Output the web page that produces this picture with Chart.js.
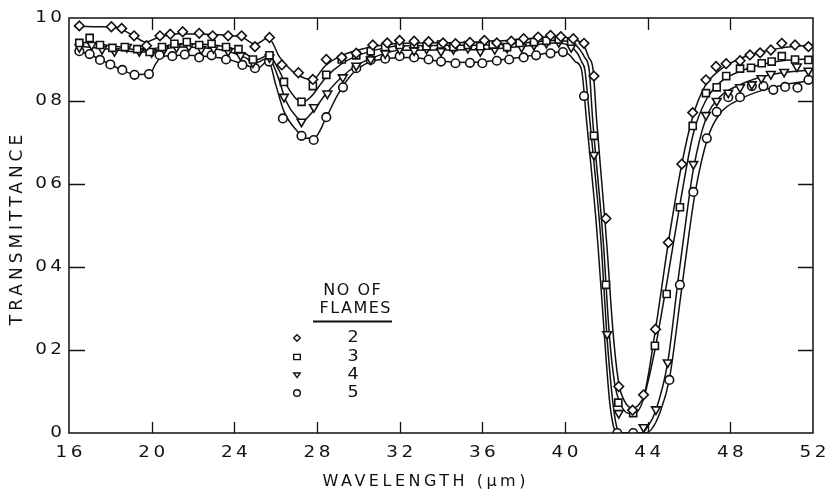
<!DOCTYPE html>
<html>
<head>
<meta charset="utf-8">
<script src="https://cdn.jsdelivr.net/npm/chart.js@4.4.1/dist/chart.umd.min.js"></script>
<style>
  html, body { margin: 0; padding: 0; background: #fff; }
  #wrap { width: 832px; height: 500px; }
</style>
</head>
<body>
<div id="wrap"><canvas id="spectrum" width="832" height="500"></canvas></div>
<script>
// axis ticks and their printed labels
const wavelengthTicks = [16, 20, 24, 28, 32, 36, 40, 44, 48, 52];
const xTickLabels = ['16', '20', '24', '28', '32', '36', '40', '44', '48', '52'];
const transmittanceTicks = [0, 0.2, 0.4, 0.6, 0.8, 1.0];
const yTickLabels = ['0', '02', '04', '06', '08', '10'];
const flameCounts = ['2', '3', '4', '5'];

// smooth fitted curves, [wavelength um, transmittance]
const fit2 = [[16.5,0.98],[17.5,0.979],[18.4,0.975],[19.1,0.958],[19.7,0.942],[20.3,0.953],[21.3,0.962],[22.5,0.961],[23.7,0.958],[24.4,0.953],[25.0,0.937],[25.65,0.952],[26.2,0.905],[26.8,0.872],[27.4,0.855],[27.8,0.852],[28.4,0.885],[29.2,0.91],[30.4,0.928],[31.5,0.937],[33,0.94],[35,0.941],[37,0.945],[38.7,0.952],[39.8,0.955],[40.4,0.948],[40.9,0.935],[41.15,0.905],[41.36,0.875],[41.53,0.754],[41.93,0.513],[42.03,0.449],[42.33,0.24],[42.6,0.12],[42.9,0.075],[43.25,0.06],[43.6,0.07],[43.85,0.095],[44.38,0.25],[45.0,0.459],[45.65,0.648],[46.2,0.765],[46.8,0.838],[47.5,0.875],[48.5,0.903],[49.5,0.918],[50.5,0.928],[52,0.935]];
const fit3 = [[16.5,0.942],[17.5,0.937],[18.5,0.93],[19.5,0.922],[20.3,0.928],[21.3,0.938],[22.5,0.937],[23.7,0.93],[24.5,0.915],[25.1,0.9],[25.65,0.91],[26.1,0.88],[26.5,0.84],[27.0,0.805],[27.3,0.797],[27.7,0.81],[28.4,0.855],[29.2,0.89],[30.0,0.91],[31,0.925],[32,0.933],[34,0.934],[36,0.935],[38,0.94],[39.6,0.946],[40.3,0.942],[40.7,0.925],[40.95,0.905],[41.17,0.875],[41.34,0.754],[41.77,0.513],[41.87,0.449],[42.14,0.24],[42.4,0.12],[42.7,0.068],[43.1,0.047],[43.4,0.048],[43.75,0.075],[44.35,0.2],[44.92,0.36],[45.56,0.55],[46.2,0.72],[46.8,0.8],[47.5,0.845],[48.5,0.872],[49.5,0.888],[50.5,0.897],[52,0.902]];
const fit4 = [[16.5,0.932],[17.5,0.927],[18.5,0.922],[19.5,0.918],[20.3,0.922],[21.3,0.93],[22.5,0.928],[23.7,0.92],[24.5,0.905],[25.1,0.893],[25.65,0.905],[26.1,0.86],[26.5,0.8],[27.0,0.762],[27.3,0.752],[27.8,0.775],[28.4,0.815],[29.2,0.858],[30,0.888],[31,0.91],[32,0.922],[34,0.923],[36,0.924],[38,0.932],[39.5,0.94],[40.2,0.934],[40.6,0.915],[40.8,0.895],[40.96,0.875],[41.2,0.754],[41.66,0.513],[41.76,0.449],[42.02,0.24],[42.3,0.08],[42.5,0.015],[42.65,0],[43.7,0],[44.0,0.015],[44.4,0.055],[44.97,0.17],[45.5,0.38],[45.9,0.53],[46.21,0.635],[46.8,0.755],[47.5,0.81],[48.5,0.84],[49.5,0.858],[50.5,0.868],[52,0.875]];
const fit5 = [[16.5,0.92],[17.0,0.912],[17.5,0.9],[18.0,0.888],[18.6,0.874],[19.2,0.864],[19.9,0.865],[20.2,0.89],[20.5,0.907],[21.5,0.91],[22.7,0.907],[23.7,0.9],[24.5,0.888],[25.1,0.878],[25.65,0.897],[26.0,0.84],[26.4,0.775],[27.0,0.73],[27.5,0.71],[27.9,0.712],[28.4,0.755],[29.0,0.815],[29.7,0.865],[30.5,0.893],[31.5,0.903],[32.5,0.905],[34,0.896],[35.5,0.893],[37,0.9],[38.5,0.91],[39.7,0.918],[40.2,0.912],[40.5,0.895],[40.8,0.875],[41.04,0.754],[41.5,0.513],[41.6,0.449],[41.9,0.24],[42.15,0.08],[42.35,0.015],[42.5,0],[43.85,0],[44.2,0.01],[44.6,0.05],[45.05,0.13],[45.6,0.33],[46.0,0.48],[46.3,0.58],[46.9,0.71],[47.5,0.77],[48.5,0.805],[49.5,0.825],[50.5,0.838],[52,0.85]];

// measured points for each number of flames
const meas2 = [[16.5,0.981],[18.05,0.979],[18.55,0.975],[19.15,0.957],[19.75,0.933],[20.4,0.957],[20.9,0.961],[21.5,0.967],[22.3,0.963],[22.95,0.957],[23.7,0.957],[24.35,0.957],[25.0,0.931],[25.7,0.953],[26.3,0.887],[27.1,0.868],[27.8,0.852],[28.45,0.9],[29.2,0.905],[29.9,0.915],[30.7,0.935],[31.4,0.94],[32.0,0.946],[32.7,0.944],[33.4,0.943],[34.1,0.94],[34.7,0.938],[35.4,0.941],[36.1,0.946],[36.7,0.94],[37.4,0.944],[38.0,0.95],[38.7,0.954],[39.3,0.958],[39.8,0.955],[40.4,0.95],[40.92,0.939],[41.4,0.86],[41.98,0.517],[42.6,0.112],[43.27,0.055],[43.8,0.092],[44.38,0.25],[45.0,0.459],[45.65,0.648],[46.18,0.772],[46.82,0.851],[47.31,0.883],[47.8,0.89],[48.47,0.897],[48.95,0.911],[49.44,0.916],[49.96,0.923],[50.49,0.939],[51.13,0.935],[51.78,0.931]];
const meas3 = [[16.5,0.94],[17.0,0.952],[17.5,0.935],[18.1,0.928],[18.7,0.93],[19.3,0.925],[19.9,0.918],[20.5,0.93],[21.1,0.938],[21.7,0.942],[22.3,0.935],[22.9,0.938],[23.6,0.93],[24.2,0.925],[24.9,0.9],[25.7,0.91],[26.4,0.846],[27.25,0.798],[27.8,0.836],[28.45,0.863],[29.2,0.9],[29.9,0.91],[30.6,0.92],[31.3,0.93],[32.0,0.935],[32.7,0.937],[33.3,0.932],[34.0,0.936],[34.6,0.93],[35.3,0.935],[35.9,0.932],[36.5,0.936],[37.2,0.93],[37.8,0.94],[38.5,0.942],[39.1,0.945],[39.7,0.948],[40.3,0.943],[41.4,0.716],[41.98,0.357],[42.58,0.073],[43.3,0.048],[44.35,0.21],[44.92,0.335],[45.56,0.544],[46.18,0.74],[46.82,0.819],[47.34,0.833],[47.8,0.86],[48.47,0.878],[49.0,0.88],[49.52,0.891],[50.0,0.895],[50.49,0.908],[51.13,0.9],[51.78,0.899]];
const meas4 = [[16.5,0.93],[17.1,0.935],[17.6,0.925],[18.2,0.92],[18.8,0.93],[19.4,0.92],[20.0,0.918],[20.6,0.925],[21.2,0.93],[21.8,0.932],[22.4,0.925],[23.0,0.927],[23.7,0.92],[24.3,0.91],[24.9,0.893],[25.7,0.905],[26.4,0.81],[27.25,0.75],[27.85,0.785],[28.5,0.818],[29.25,0.857],[29.9,0.885],[30.6,0.9],[31.3,0.915],[32.0,0.925],[32.7,0.922],[33.3,0.926],[34.0,0.92],[34.6,0.925],[35.3,0.928],[35.9,0.92],[36.6,0.925],[37.2,0.928],[37.9,0.93],[38.5,0.935],[39.1,0.94],[39.7,0.942],[40.3,0.93],[41.4,0.67],[42.04,0.238],[42.6,0.048],[43.8,0.014],[44.4,0.057],[44.97,0.17],[46.21,0.648],[46.82,0.766],[47.34,0.8],[47.9,0.82],[48.47,0.833],[49.04,0.84],[49.5,0.855],[49.96,0.865],[50.6,0.87],[51.22,0.883],[51.78,0.873]];
const meas5 = [[16.5,0.92],[17.0,0.913],[17.5,0.899],[18.0,0.888],[18.58,0.875],[19.17,0.863],[19.87,0.865],[20.38,0.911],[21.0,0.908],[21.6,0.912],[22.3,0.905],[22.9,0.91],[23.6,0.9],[24.39,0.887],[25.0,0.879],[25.68,0.895],[26.35,0.758],[27.25,0.716],[27.84,0.706],[28.45,0.761],[29.26,0.833],[29.9,0.879],[30.6,0.899],[31.3,0.902],[32.0,0.908],[32.7,0.905],[33.4,0.9],[34.0,0.895],[34.7,0.891],[35.4,0.892],[36.0,0.891],[36.7,0.897],[37.3,0.9],[38.0,0.905],[38.6,0.91],[39.3,0.915],[39.9,0.918],[40.92,0.812],[42.53,0],[43.3,0],[45.05,0.128],[45.56,0.357],[46.21,0.581],[46.86,0.71],[47.34,0.774],[47.9,0.809],[48.47,0.809],[49.04,0.836],[49.6,0.836],[50.08,0.827],[50.65,0.834],[51.25,0.832],[51.78,0.851]];

const INK = '#111';
const FONT = '"DejaVu Sans", sans-serif';

const series = [
  { fit: fit2, meas: meas2, style: 'rectRot', radius: 4.8, rotation: 0 },
  { fit: fit3, meas: meas3, style: 'rect', radius: 5, rotation: 0 },
  { fit: fit4, meas: meas4, style: 'triangle', radius: 5, rotation: 180 },
  { fit: fit5, meas: meas5, style: 'circle', radius: 4.3, rotation: 0 }
];

const toXY = pts => pts.map(([x, y]) => ({ x, y }));

const datasets = [];
series.forEach(s => {
  datasets.push({
    type: 'line',
    data: toXY(s.fit),
    borderColor: INK,
    borderWidth: 1.5,
    pointRadius: 0,
    fill: false,
    cubicInterpolationMode: 'monotone',
    order: 2
  });
  datasets.push({
    type: 'scatter',
    data: toXY(s.meas),
    showLine: false,
    pointStyle: s.style,
    pointRadius: s.radius,
    rotation: s.rotation,
    pointBackgroundColor: '#fff',
    pointBorderColor: INK,
    pointBorderWidth: 1.6,
    order: 1
  });
});

// text with optional horizontal stretch and letter spacing
function drawText(ctx, text, x, y, size, align, spacing, stretch) {
  ctx.save();
  ctx.font = size + 'px ' + FONT;
  ctx.letterSpacing = spacing + 'px';
  ctx.fillStyle = INK;
  ctx.textBaseline = 'middle';
  ctx.textAlign = 'left';
  const w = (ctx.measureText(text).width - spacing) * stretch;
  let left = x;
  if (align === 'center') left = x - w / 2;
  if (align === 'right') left = x - w;
  ctx.translate(left, y);
  ctx.scale(stretch, 1);
  ctx.fillText(text, 0, 0);
  ctx.restore();
}

function drawMarker(ctx, style, x, y, r, rotation) {
  ctx.save();
  ctx.fillStyle = '#fff';
  ctx.strokeStyle = INK;
  ctx.lineWidth = 1.4;
  ctx.beginPath();
  if (style === 'circle') {
    ctx.arc(x, y, r, 0, Math.PI * 2);
  } else if (style === 'rect') {
    ctx.rect(x - r, y - r * 0.8, 2 * r, 1.6 * r);
  } else if (style === 'rectRot') {
    ctx.moveTo(x, y - r); ctx.lineTo(x + r, y); ctx.lineTo(x, y + r); ctx.lineTo(x - r, y); ctx.closePath();
  } else {
    const s = rotation ? 1 : -1;
    ctx.moveTo(x - r, y - s * r * 0.6); ctx.lineTo(x + r, y - s * r * 0.6); ctx.lineTo(x, y + s * r * 0.8); ctx.closePath();
  }
  ctx.fill();
  ctx.stroke();
  ctx.restore();
}

const framePlugin = {
  id: 'frame',
  afterDraw(chart) {
    const ctx = chart.ctx;
    const { left, right, top, bottom } = chart.chartArea;
    const xs = chart.scales.x;
    const ys = chart.scales.y;

    ctx.save();
    ctx.strokeStyle = INK;
    ctx.lineWidth = 1.5;
    ctx.strokeRect(left, top, right - left, bottom - top);

    // inward tick marks on all four sides
    ctx.beginPath();
    wavelengthTicks.slice(1, -1).forEach(v => {
      const px = Math.round(xs.getPixelForValue(v)) + 0.5;
      ctx.moveTo(px, bottom); ctx.lineTo(px, bottom - 11);
      ctx.moveTo(px, top); ctx.lineTo(px, top + 12);
    });
    transmittanceTicks.slice(1, -1).forEach(v => {
      const py = Math.round(ys.getPixelForValue(v)) + 0.5;
      ctx.moveTo(left, py); ctx.lineTo(left + 16, py);
      ctx.moveTo(right, py); ctx.lineTo(right - 15, py);
    });
    ctx.lineWidth = 1.3;
    ctx.stroke();
    ctx.restore();

    // tick labels
    wavelengthTicks.forEach((v, i) => {
      drawText(ctx, xTickLabels[i], xs.getPixelForValue(v), bottom + 20, 16, 'center', 3, 1.15);
    });
    transmittanceTicks.forEach((v, i) => {
      drawText(ctx, yTickLabels[i], left - 7, ys.getPixelForValue(v), 16, 'right', 3, 1.15);
    });

    // axis titles
    drawText(ctx, 'WAVELENGTH (\u03bcm)', 424, bottom + 49, 16, 'center', 3.5, 1.0);
    ctx.save();
    ctx.translate(18, 230);
    ctx.rotate(-Math.PI / 2);
    drawText(ctx, 'TRANSMITTANCE', 0, 0, 17, 'center', 4, 1.0);
    ctx.restore();

    // key
    drawText(ctx, 'NO OF', 352, 291, 16, 'center', 1.5, 1.0);
    drawText(ctx, 'FLAMES', 355, 309, 16, 'center', 1.5, 1.0);
    ctx.save();
    ctx.strokeStyle = INK;
    ctx.lineWidth = 2;
    ctx.beginPath();
    ctx.moveTo(313, 321.5); ctx.lineTo(392, 321.5);
    ctx.stroke();
    ctx.restore();
    const rowY = [338, 357, 375, 393];
    series.forEach((s, i) => {
      drawMarker(ctx, s.style, 297, rowY[i], 3.3, s.rotation);
      drawText(ctx, flameCounts[i], 353, rowY[i], 16, 'center', 0, 1.1);
    });
  }
};

new Chart(document.getElementById('spectrum'), {
  type: 'scatter',
  data: { datasets },
  options: {
    responsive: false,
    animation: false,
    layout: { padding: { left: 0, right: 19, top: 18, bottom: 0 } },
    plugins: { legend: { display: false }, tooltip: { enabled: false } },
    scales: {
      x: {
        type: 'linear',
        min: 16,
        max: 52,
        ticks: { display: false, stepSize: 4 },
        grid: { display: false },
        border: { display: false },
        afterFit(scale) { scale.height = 67; }
      },
      y: {
        min: 0,
        max: 1,
        ticks: { display: false, stepSize: 0.2 },
        grid: { display: false },
        border: { display: false },
        afterFit(scale) { scale.width = 69; }
      }
    }
  },
  plugins: [framePlugin]
});
</script>
</body>
</html>
